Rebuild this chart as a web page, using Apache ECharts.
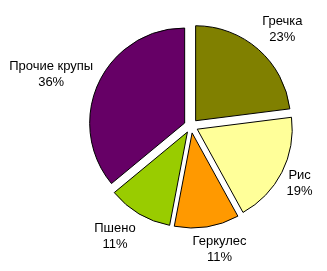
<!DOCTYPE html>
<html>
<head>
<meta charset="utf-8">
<script src="https://cdn.jsdelivr.net/npm/echarts@6/dist/echarts.min.js"></script>
<style>
html,body{margin:0;padding:0;background:#fff;}
#chart{width:327px;height:271px;}
</style>
</head>
<body>
<div id="chart"></div>
<script>
const categories = ['Гречка', 'Рис', 'Геркулес', 'Пшено', 'Прочие крупы'];
const values = [23, 19, 11, 11, 36];
const colors = ['#808000', '#FFFF99', '#FF9900', '#99CC00', '#660066'];

// label placement (radial distance from centre, angle adjustment in degrees)
const labelDist = [133, 123, 127, 134, 149];
const labelAngleAdj = [2, 1, -4, 4, -5];

const CX = 191, CY = 126, R = 95;
const total = values.reduce((a, b) => a + b, 0);
const midAngles = [];
let acc = 0;
values.forEach(v => { midAngles.push((acc + v / 2) / total * 360); acc += v; });

const labelTexts = categories.map((c, i) => ({
  type: 'text',
  silent: true,
  x: CX + labelDist[i] * Math.sin((midAngles[i] + labelAngleAdj[i]) * Math.PI / 180),
  y: CY - labelDist[i] * Math.cos((midAngles[i] + labelAngleAdj[i]) * Math.PI / 180),
  style: {
    text: c + '\n' + Math.round(values[i] / total * 100) + '%',
    fill: '#000',
    font: '13px "Liberation Sans", Arial, sans-serif',
    lineHeight: 16,
    align: 'center',
    verticalAlign: 'middle'
  }
}));

const chart = echarts.init(document.getElementById('chart'), null, {renderer: 'canvas'});
chart.setOption({
  animation: false,
  backgroundColor: '#fff',
  graphic: labelTexts,
  series: [{
    type: 'pie',
    center: [CX, CY],
    radius: [0, R],
    startAngle: 90,
    clockwise: true,
    selectedMode: 'multiple',
    selectedOffset: 7,
    emphasis: {disabled: true},
    itemStyle: {borderColor: '#000', borderWidth: 1},
    label: {show: false},
    labelLine: {show: false},
    data: categories.map((c, i) => ({
      name: c,
      value: values[i],
      selected: true,
      itemStyle: {color: colors[i]}
    }))
  }]
});
</script>
</body>
</html>
